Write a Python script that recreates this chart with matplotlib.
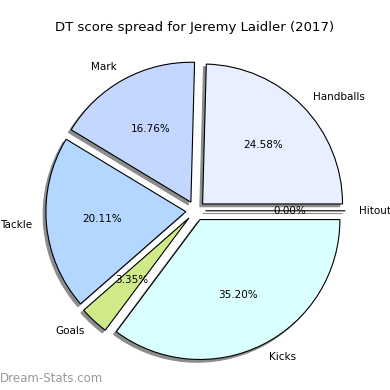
import matplotlib
matplotlib.use("Agg")
import matplotlib.pyplot as plt

# data
labels = ["Handballs", "Mark", "Tackle", "Goals", "Kicks", "Hitout"]
shares = [24.58, 16.76, 20.11, 3.35, 35.20, 0.00]
colors = ["#e8f0ff", "#c4d7ff", "#b4d7ff", "#d0ea8a", "#d9ffff", "#e0e0e0"]

fig = plt.figure(figsize=(3.9, 3.9), dpi=100)
ax = fig.add_axes([0.053, 0.011, 0.897, 0.897])

ax.pie(shares, labels=labels, colors=colors, autopct="%.2f%%",
       explode=[0.07] * len(shares),
       shadow=dict(ox=-0.014, oy=-0.014, facecolor="#8c8c8c",
                   edgecolor="#8c8c8c", alpha=1.0),
       startangle=0, labeldistance=1.1, pctdistance=0.6,
       wedgeprops=dict(edgecolor="black", linewidth=0.8),
       textprops=dict(fontsize=7.5))
ax.set_aspect("equal")

fig.suptitle("DT score spread for Jeremy Laidler (2017)", y=0.945, fontsize=9.5)
fig.text(0.0, 0.012, "Dream-Stats.com", color="#999999", fontsize=8.5,
         ha="left", va="bottom")

fig.savefig("out.png", dpi=100)
